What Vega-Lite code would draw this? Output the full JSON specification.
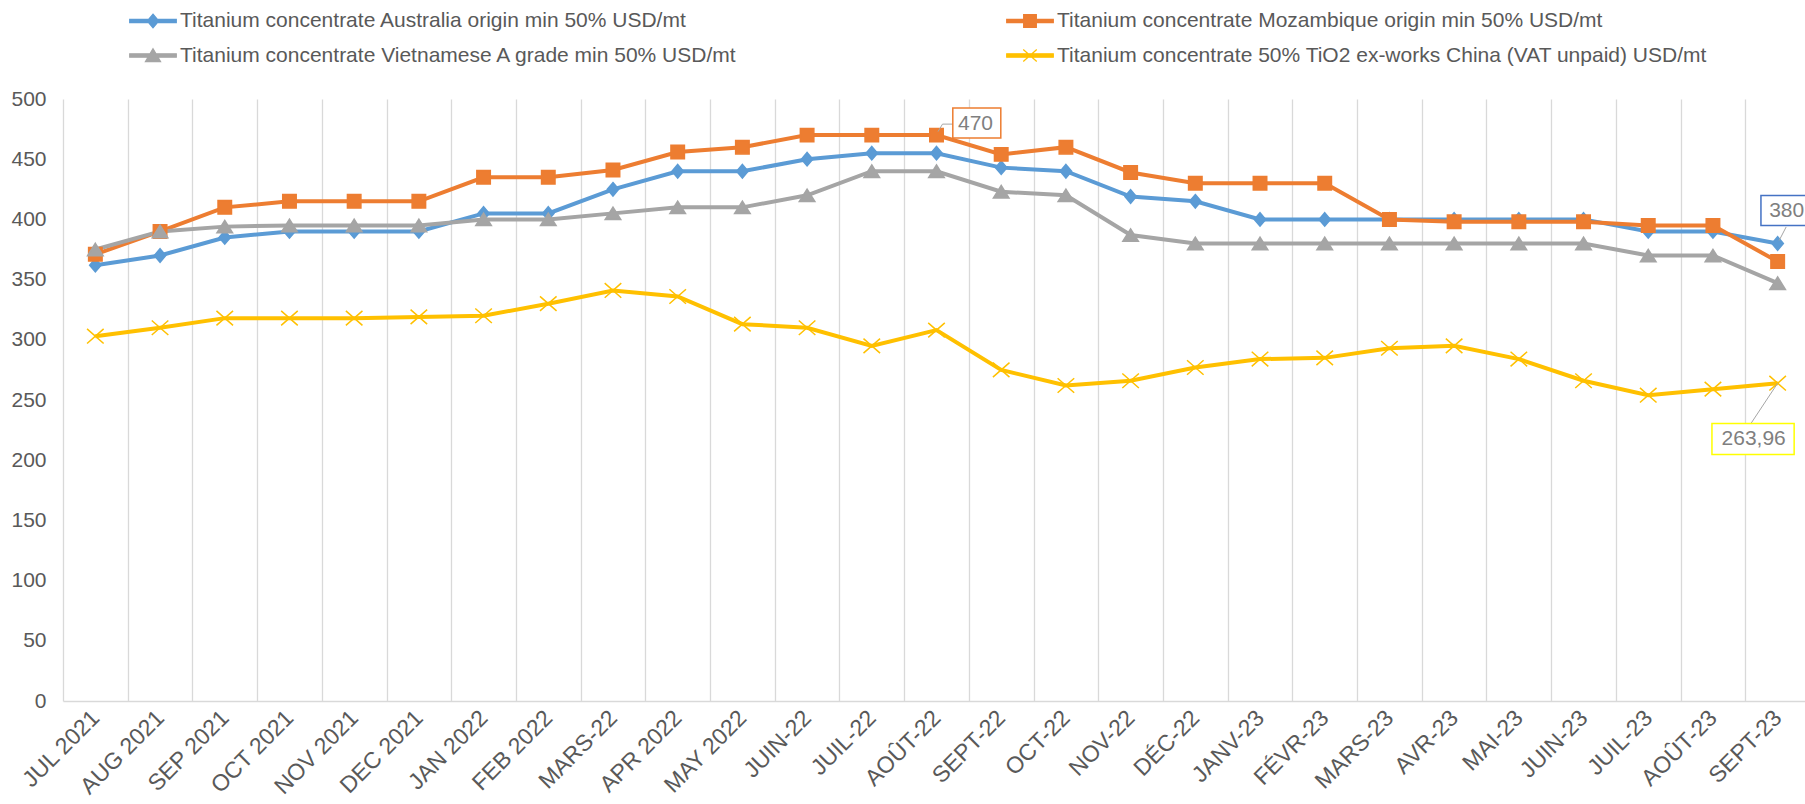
{
  "$schema": "https://vega.github.io/schema/vega-lite/v6.json",
  "autosize": {"type": "none"},
  "width": 1742,
  "height": 602,
  "padding": {"left": 63, "top": 99, "right": 0, "bottom": 103},
  "background": "white",
  "config": {
    "view": {"stroke": null},
    "font": "Liberation Sans",
    "axis": {"labelFont": "Liberation Sans", "labelColor": "#595959"},
    "legend": {"labelFont": "Liberation Sans"}
  },
  "datasets": {
    "prices": [
      {"month": "JUL 2021", "series": "Titanium concentrate Australia origin min 50% USD/mt", "value": 362},
      {"month": "AUG 2021", "series": "Titanium concentrate Australia origin min 50% USD/mt", "value": 370},
      {"month": "SEP 2021", "series": "Titanium concentrate Australia origin min 50% USD/mt", "value": 385},
      {"month": "OCT 2021", "series": "Titanium concentrate Australia origin min 50% USD/mt", "value": 390},
      {"month": "NOV 2021", "series": "Titanium concentrate Australia origin min 50% USD/mt", "value": 390},
      {"month": "DEC 2021", "series": "Titanium concentrate Australia origin min 50% USD/mt", "value": 390},
      {"month": "JAN 2022", "series": "Titanium concentrate Australia origin min 50% USD/mt", "value": 405},
      {"month": "FEB 2022", "series": "Titanium concentrate Australia origin min 50% USD/mt", "value": 405},
      {"month": "MARS-22", "series": "Titanium concentrate Australia origin min 50% USD/mt", "value": 425},
      {"month": "APR 2022", "series": "Titanium concentrate Australia origin min 50% USD/mt", "value": 440},
      {"month": "MAY 2022", "series": "Titanium concentrate Australia origin min 50% USD/mt", "value": 440},
      {"month": "JUIN-22", "series": "Titanium concentrate Australia origin min 50% USD/mt", "value": 450},
      {"month": "JUIL-22", "series": "Titanium concentrate Australia origin min 50% USD/mt", "value": 455},
      {"month": "AOÛT-22", "series": "Titanium concentrate Australia origin min 50% USD/mt", "value": 455},
      {"month": "SEPT-22", "series": "Titanium concentrate Australia origin min 50% USD/mt", "value": 443},
      {"month": "OCT-22", "series": "Titanium concentrate Australia origin min 50% USD/mt", "value": 440},
      {"month": "NOV-22", "series": "Titanium concentrate Australia origin min 50% USD/mt", "value": 419},
      {"month": "DÉC-22", "series": "Titanium concentrate Australia origin min 50% USD/mt", "value": 415},
      {"month": "JANV-23", "series": "Titanium concentrate Australia origin min 50% USD/mt", "value": 400},
      {"month": "FÉVR-23", "series": "Titanium concentrate Australia origin min 50% USD/mt", "value": 400},
      {"month": "MARS-23", "series": "Titanium concentrate Australia origin min 50% USD/mt", "value": 400},
      {"month": "AVR-23", "series": "Titanium concentrate Australia origin min 50% USD/mt", "value": 400},
      {"month": "MAI-23", "series": "Titanium concentrate Australia origin min 50% USD/mt", "value": 400},
      {"month": "JUIN-23", "series": "Titanium concentrate Australia origin min 50% USD/mt", "value": 400},
      {"month": "JUIL-23", "series": "Titanium concentrate Australia origin min 50% USD/mt", "value": 390},
      {"month": "AOÛT-23", "series": "Titanium concentrate Australia origin min 50% USD/mt", "value": 390},
      {"month": "SEPT-23", "series": "Titanium concentrate Australia origin min 50% USD/mt", "value": 380},
      {"month": "JUL 2021", "series": "Titanium concentrate Mozambique origin min 50% USD/mt", "value": 371},
      {"month": "AUG 2021", "series": "Titanium concentrate Mozambique origin min 50% USD/mt", "value": 390},
      {"month": "SEP 2021", "series": "Titanium concentrate Mozambique origin min 50% USD/mt", "value": 410},
      {"month": "OCT 2021", "series": "Titanium concentrate Mozambique origin min 50% USD/mt", "value": 415},
      {"month": "NOV 2021", "series": "Titanium concentrate Mozambique origin min 50% USD/mt", "value": 415},
      {"month": "DEC 2021", "series": "Titanium concentrate Mozambique origin min 50% USD/mt", "value": 415},
      {"month": "JAN 2022", "series": "Titanium concentrate Mozambique origin min 50% USD/mt", "value": 435},
      {"month": "FEB 2022", "series": "Titanium concentrate Mozambique origin min 50% USD/mt", "value": 435},
      {"month": "MARS-22", "series": "Titanium concentrate Mozambique origin min 50% USD/mt", "value": 441},
      {"month": "APR 2022", "series": "Titanium concentrate Mozambique origin min 50% USD/mt", "value": 456},
      {"month": "MAY 2022", "series": "Titanium concentrate Mozambique origin min 50% USD/mt", "value": 460},
      {"month": "JUIN-22", "series": "Titanium concentrate Mozambique origin min 50% USD/mt", "value": 470},
      {"month": "JUIL-22", "series": "Titanium concentrate Mozambique origin min 50% USD/mt", "value": 470},
      {"month": "AOÛT-22", "series": "Titanium concentrate Mozambique origin min 50% USD/mt", "value": 470},
      {"month": "SEPT-22", "series": "Titanium concentrate Mozambique origin min 50% USD/mt", "value": 454},
      {"month": "OCT-22", "series": "Titanium concentrate Mozambique origin min 50% USD/mt", "value": 460},
      {"month": "NOV-22", "series": "Titanium concentrate Mozambique origin min 50% USD/mt", "value": 439},
      {"month": "DÉC-22", "series": "Titanium concentrate Mozambique origin min 50% USD/mt", "value": 430},
      {"month": "JANV-23", "series": "Titanium concentrate Mozambique origin min 50% USD/mt", "value": 430},
      {"month": "FÉVR-23", "series": "Titanium concentrate Mozambique origin min 50% USD/mt", "value": 430},
      {"month": "MARS-23", "series": "Titanium concentrate Mozambique origin min 50% USD/mt", "value": 400},
      {"month": "AVR-23", "series": "Titanium concentrate Mozambique origin min 50% USD/mt", "value": 398},
      {"month": "MAI-23", "series": "Titanium concentrate Mozambique origin min 50% USD/mt", "value": 398},
      {"month": "JUIN-23", "series": "Titanium concentrate Mozambique origin min 50% USD/mt", "value": 398},
      {"month": "JUIL-23", "series": "Titanium concentrate Mozambique origin min 50% USD/mt", "value": 395},
      {"month": "AOÛT-23", "series": "Titanium concentrate Mozambique origin min 50% USD/mt", "value": 395},
      {"month": "SEPT-23", "series": "Titanium concentrate Mozambique origin min 50% USD/mt", "value": 365},
      {"month": "JUL 2021", "series": "Titanium concentrate Vietnamese A grade min 50% USD/mt", "value": 375},
      {"month": "AUG 2021", "series": "Titanium concentrate Vietnamese A grade min 50% USD/mt", "value": 390},
      {"month": "SEP 2021", "series": "Titanium concentrate Vietnamese A grade min 50% USD/mt", "value": 394},
      {"month": "OCT 2021", "series": "Titanium concentrate Vietnamese A grade min 50% USD/mt", "value": 395},
      {"month": "NOV 2021", "series": "Titanium concentrate Vietnamese A grade min 50% USD/mt", "value": 395},
      {"month": "DEC 2021", "series": "Titanium concentrate Vietnamese A grade min 50% USD/mt", "value": 395},
      {"month": "JAN 2022", "series": "Titanium concentrate Vietnamese A grade min 50% USD/mt", "value": 400},
      {"month": "FEB 2022", "series": "Titanium concentrate Vietnamese A grade min 50% USD/mt", "value": 400},
      {"month": "MARS-22", "series": "Titanium concentrate Vietnamese A grade min 50% USD/mt", "value": 405},
      {"month": "APR 2022", "series": "Titanium concentrate Vietnamese A grade min 50% USD/mt", "value": 410},
      {"month": "MAY 2022", "series": "Titanium concentrate Vietnamese A grade min 50% USD/mt", "value": 410},
      {"month": "JUIN-22", "series": "Titanium concentrate Vietnamese A grade min 50% USD/mt", "value": 420},
      {"month": "JUIL-22", "series": "Titanium concentrate Vietnamese A grade min 50% USD/mt", "value": 440},
      {"month": "AOÛT-22", "series": "Titanium concentrate Vietnamese A grade min 50% USD/mt", "value": 440},
      {"month": "SEPT-22", "series": "Titanium concentrate Vietnamese A grade min 50% USD/mt", "value": 423},
      {"month": "OCT-22", "series": "Titanium concentrate Vietnamese A grade min 50% USD/mt", "value": 420},
      {"month": "NOV-22", "series": "Titanium concentrate Vietnamese A grade min 50% USD/mt", "value": 387},
      {"month": "DÉC-22", "series": "Titanium concentrate Vietnamese A grade min 50% USD/mt", "value": 380},
      {"month": "JANV-23", "series": "Titanium concentrate Vietnamese A grade min 50% USD/mt", "value": 380},
      {"month": "FÉVR-23", "series": "Titanium concentrate Vietnamese A grade min 50% USD/mt", "value": 380},
      {"month": "MARS-23", "series": "Titanium concentrate Vietnamese A grade min 50% USD/mt", "value": 380},
      {"month": "AVR-23", "series": "Titanium concentrate Vietnamese A grade min 50% USD/mt", "value": 380},
      {"month": "MAI-23", "series": "Titanium concentrate Vietnamese A grade min 50% USD/mt", "value": 380},
      {"month": "JUIN-23", "series": "Titanium concentrate Vietnamese A grade min 50% USD/mt", "value": 380},
      {"month": "JUIL-23", "series": "Titanium concentrate Vietnamese A grade min 50% USD/mt", "value": 370},
      {"month": "AOÛT-23", "series": "Titanium concentrate Vietnamese A grade min 50% USD/mt", "value": 370},
      {"month": "SEPT-23", "series": "Titanium concentrate Vietnamese A grade min 50% USD/mt", "value": 347},
      {"month": "JUL 2021", "series": "Titanium concentrate 50% TiO2 ex-works China (VAT unpaid) USD/mt", "value": 303},
      {"month": "AUG 2021", "series": "Titanium concentrate 50% TiO2 ex-works China (VAT unpaid) USD/mt", "value": 310},
      {"month": "SEP 2021", "series": "Titanium concentrate 50% TiO2 ex-works China (VAT unpaid) USD/mt", "value": 318},
      {"month": "OCT 2021", "series": "Titanium concentrate 50% TiO2 ex-works China (VAT unpaid) USD/mt", "value": 318},
      {"month": "NOV 2021", "series": "Titanium concentrate 50% TiO2 ex-works China (VAT unpaid) USD/mt", "value": 318},
      {"month": "DEC 2021", "series": "Titanium concentrate 50% TiO2 ex-works China (VAT unpaid) USD/mt", "value": 319},
      {"month": "JAN 2022", "series": "Titanium concentrate 50% TiO2 ex-works China (VAT unpaid) USD/mt", "value": 320},
      {"month": "FEB 2022", "series": "Titanium concentrate 50% TiO2 ex-works China (VAT unpaid) USD/mt", "value": 330},
      {"month": "MARS-22", "series": "Titanium concentrate 50% TiO2 ex-works China (VAT unpaid) USD/mt", "value": 341},
      {"month": "APR 2022", "series": "Titanium concentrate 50% TiO2 ex-works China (VAT unpaid) USD/mt", "value": 336},
      {"month": "MAY 2022", "series": "Titanium concentrate 50% TiO2 ex-works China (VAT unpaid) USD/mt", "value": 313},
      {"month": "JUIN-22", "series": "Titanium concentrate 50% TiO2 ex-works China (VAT unpaid) USD/mt", "value": 310},
      {"month": "JUIL-22", "series": "Titanium concentrate 50% TiO2 ex-works China (VAT unpaid) USD/mt", "value": 295},
      {"month": "AOÛT-22", "series": "Titanium concentrate 50% TiO2 ex-works China (VAT unpaid) USD/mt", "value": 308},
      {"month": "SEPT-22", "series": "Titanium concentrate 50% TiO2 ex-works China (VAT unpaid) USD/mt", "value": 275},
      {"month": "OCT-22", "series": "Titanium concentrate 50% TiO2 ex-works China (VAT unpaid) USD/mt", "value": 262},
      {"month": "NOV-22", "series": "Titanium concentrate 50% TiO2 ex-works China (VAT unpaid) USD/mt", "value": 266},
      {"month": "DÉC-22", "series": "Titanium concentrate 50% TiO2 ex-works China (VAT unpaid) USD/mt", "value": 277},
      {"month": "JANV-23", "series": "Titanium concentrate 50% TiO2 ex-works China (VAT unpaid) USD/mt", "value": 284},
      {"month": "FÉVR-23", "series": "Titanium concentrate 50% TiO2 ex-works China (VAT unpaid) USD/mt", "value": 285},
      {"month": "MARS-23", "series": "Titanium concentrate 50% TiO2 ex-works China (VAT unpaid) USD/mt", "value": 293},
      {"month": "AVR-23", "series": "Titanium concentrate 50% TiO2 ex-works China (VAT unpaid) USD/mt", "value": 295},
      {"month": "MAI-23", "series": "Titanium concentrate 50% TiO2 ex-works China (VAT unpaid) USD/mt", "value": 284},
      {"month": "JUIN-23", "series": "Titanium concentrate 50% TiO2 ex-works China (VAT unpaid) USD/mt", "value": 266},
      {"month": "JUIL-23", "series": "Titanium concentrate 50% TiO2 ex-works China (VAT unpaid) USD/mt", "value": 254},
      {"month": "AOÛT-23", "series": "Titanium concentrate 50% TiO2 ex-works China (VAT unpaid) USD/mt", "value": 259},
      {"month": "SEPT-23", "series": "Titanium concentrate 50% TiO2 ex-works China (VAT unpaid) USD/mt", "value": 263.96}
    ],
    "labels": [
      {"month": "AOÛT-22", "series": "Titanium concentrate Mozambique origin min 50% USD/mt", "value": 470, "label": "470"},
      {"month": "SEPT-23", "series": "Titanium concentrate Australia origin min 50% USD/mt", "value": 380, "label": "380"},
      {"month": "SEPT-23", "series": "Titanium concentrate 50% TiO2 ex-works China (VAT unpaid) USD/mt", "value": 263.96, "label": "263,96"}
    ]
  },
  "resolve": {"scale": {"shape": "independent", "fill": "independent", "stroke": "independent"}},
  "encoding": {
    "x": {
      "field": "month",
      "type": "ordinal",
      "sort": ["JUL 2021","AUG 2021","SEP 2021","OCT 2021","NOV 2021","DEC 2021","JAN 2022","FEB 2022","MARS-22","APR 2022","MAY 2022","JUIN-22","JUIL-22","AOÛT-22","SEPT-22","OCT-22","NOV-22","DÉC-22","JANV-23","FÉVR-23","MARS-23","AVR-23","MAI-23","JUIN-23","JUIL-23","AOÛT-23","SEPT-23"],
      "scale": {"type": "band", "paddingInner": 0, "paddingOuter": 0, "range": [0, 1747]},
      "axis": {
        "title": null,
        "tickBand": "extent",
        "ticks": false,
        "grid": true,
        "gridColor": "#D9D9D9",
        "gridWidth": 1.3,
        "domainColor": "#D9D9D9",
        "domainWidth": 1.5,
        "labelAngle": -45,
        "labelAlign": "right",
        "labelBaseline": "middle",
        "labelPadding": 13,
        "labelFontSize": 23
      }
    },
    "y": {
      "field": "value",
      "type": "quantitative",
      "scale": {"domain": [0, 500], "nice": false},
      "axis": {
        "title": null,
        "values": [0, 50, 100, 150, 200, 250, 300, 350, 400, 450, 500],
        "grid": false,
        "domain": false,
        "ticks": false,
        "labelPadding": 17,
        "labelFontSize": 21
      }
    }
  },
  "layer": [
    {
      "data": {"name": "prices"},
      "mark": {"type": "line", "strokeWidth": 4},
      "encoding": {
        "color": {
          "field": "series",
          "type": "nominal",
          "scale": {
            "domain": ["Titanium concentrate Australia origin min 50% USD/mt", "Titanium concentrate Mozambique origin min 50% USD/mt", "Titanium concentrate Vietnamese A grade min 50% USD/mt", "Titanium concentrate 50% TiO2 ex-works China (VAT unpaid) USD/mt"],
            "range": ["#5B9BD5", "#ED7D31", "#A5A5A5", "#FFC000"]
          },
          "legend": null
        }
      }
    },
    {
      "data": {"name": "prices"},
      "mark": {"type": "point", "filled": true, "opacity": 1, "size": 430, "strokeWidth": 1.5},
      "encoding": {
        "shape": {
          "field": "series",
          "type": "nominal",
          "scale": {
            "domain": ["Titanium concentrate Australia origin min 50% USD/mt", "Titanium concentrate Mozambique origin min 50% USD/mt", "Titanium concentrate Vietnamese A grade min 50% USD/mt", "Titanium concentrate 50% TiO2 ex-works China (VAT unpaid) USD/mt"],
            "range": ["M0,-0.65L0.55,0L0,0.65L-0.55,0Z", "M-0.65,-0.65H0.65V0.65H-0.65Z", "M0,-0.6L0.75,0.6H-0.75Z", "M-0.8,-0.7L0.8,0.7M-0.8,0.7L0.8,-0.7"]
          },
          "legend": null
        },
        "fill": {
          "field": "series",
          "type": "nominal",
          "scale": {
            "domain": ["Titanium concentrate Australia origin min 50% USD/mt", "Titanium concentrate Mozambique origin min 50% USD/mt", "Titanium concentrate Vietnamese A grade min 50% USD/mt", "Titanium concentrate 50% TiO2 ex-works China (VAT unpaid) USD/mt"],
            "range": ["#5B9BD5", "#ED7D31", "#A5A5A5", "#FFC000"]
          },
          "legend": null
        },
        "stroke": {
          "field": "series",
          "type": "nominal",
          "scale": {
            "domain": ["Titanium concentrate Australia origin min 50% USD/mt", "Titanium concentrate Mozambique origin min 50% USD/mt", "Titanium concentrate Vietnamese A grade min 50% USD/mt", "Titanium concentrate 50% TiO2 ex-works China (VAT unpaid) USD/mt"],
            "range": ["#5B9BD5", "#ED7D31", "#A5A5A5", "#FFC000"]
          },
          "legend": null
        }
      }
    },
    {
      "data": {"name": "prices"},
      "transform": [{"filter": "false"}],
      "mark": {"type": "point", "filled": true, "opacity": 1, "size": 900, "strokeWidth": 1.3},
      "encoding": {
        "shape": {
          "field": "series",
          "type": "nominal",
          "scale": {
            "domain": ["Titanium concentrate Australia origin min 50% USD/mt", "Titanium concentrate Mozambique origin min 50% USD/mt", "Titanium concentrate Vietnamese A grade min 50% USD/mt", "Titanium concentrate 50% TiO2 ex-works China (VAT unpaid) USD/mt"],
            "range": [
              "M-1.55,-0.11H1.55V0.11H-1.55ZM0,-0.45L0.38,0L0,0.45L-0.38,0Z",
              "M-1.55,-0.11H1.55V0.11H-1.55ZM-0.42,-0.42H0.42V0.42H-0.42Z",
              "M-1.55,-0.11H1.55V0.11H-1.55ZM0,-0.45L0.5,0.4H-0.5Z",
              "M-1.55,-0.11H1.55V0.11H-1.55ZM-0.45,-0.4L0.45,0.4M-0.45,0.4L0.45,-0.4"
            ]
          },
          "legend": {
            "title": null,
            "orient": "none",
            "legendX": 74,
            "legendY": -94,
            "direction": "horizontal",
            "columns": 2,
            "padding": 0,
            "columnPadding": 266,
            "rowPadding": 8.5,
            "symbolSize": 900,
            "symbolStrokeWidth": 1.3,
            "labelOffset": 11,
            "labelLimit": 1000,
            "labelFontSize": 21,
            "labelColor": "#595959"
          }
        },
        "fill": {
          "field": "series",
          "type": "nominal",
          "scale": {
            "domain": ["Titanium concentrate Australia origin min 50% USD/mt", "Titanium concentrate Mozambique origin min 50% USD/mt", "Titanium concentrate Vietnamese A grade min 50% USD/mt", "Titanium concentrate 50% TiO2 ex-works China (VAT unpaid) USD/mt"],
            "range": ["#5B9BD5", "#ED7D31", "#A5A5A5", "#FFC000"]
          },
          "legend": {
            "title": null,
            "orient": "none",
            "legendX": 74,
            "legendY": -94,
            "direction": "horizontal",
            "columns": 2,
            "padding": 0,
            "columnPadding": 266,
            "rowPadding": 8.5,
            "symbolSize": 900,
            "symbolStrokeWidth": 1.3,
            "labelOffset": 11,
            "labelLimit": 1000,
            "labelFontSize": 21,
            "labelColor": "#595959"
          }
        },
        "stroke": {
          "field": "series",
          "type": "nominal",
          "scale": {
            "domain": ["Titanium concentrate Australia origin min 50% USD/mt", "Titanium concentrate Mozambique origin min 50% USD/mt", "Titanium concentrate Vietnamese A grade min 50% USD/mt", "Titanium concentrate 50% TiO2 ex-works China (VAT unpaid) USD/mt"],
            "range": ["#5B9BD5", "#ED7D31", "#A5A5A5", "#FFC000"]
          },
          "legend": {
            "title": null,
            "orient": "none",
            "legendX": 74,
            "legendY": -94,
            "direction": "horizontal",
            "columns": 2,
            "padding": 0,
            "columnPadding": 266,
            "rowPadding": 8.5,
            "symbolSize": 900,
            "symbolStrokeWidth": 1.3,
            "labelOffset": 11,
            "labelLimit": 1000,
            "labelFontSize": 21,
            "labelColor": "#595959"
          }
        }
      }
    },
    {
      "data": {"name": "labels"},
      "transform": [{"filter": "datum.label === '470'"}],
      "mark": {"type": "point", "shape": "M0.03,-0.07L0.12,-0.22L0.33,-0.22", "size": 10000, "filled": false, "stroke": "#A6A6A6", "strokeWidth": 1, "opacity": 1}
    },
    {
      "data": {"name": "labels"},
      "transform": [{"filter": "datum.label === '470'"}],
      "mark": {"type": "point", "shape": "M0.326,-0.54H1.286V0.06H0.326Z", "size": 10000, "filled": true, "fill": "white", "stroke": "#ED7D31", "strokeWidth": 1.5, "opacity": 1}
    },
    {
      "data": {"name": "labels"},
      "transform": [{"filter": "datum.label === '470'"}],
      "mark": {"type": "text", "dx": 39, "dy": -11, "fontSize": 21, "color": "#7F7F7F", "align": "center", "baseline": "middle"},
      "encoding": {"text": {"field": "label"}}
    },
    {
      "data": {"name": "labels"},
      "transform": [{"filter": "datum.label === '380'"}],
      "mark": {"type": "point", "shape": "M0.03,-0.06L0.17,-0.33", "size": 10000, "filled": false, "stroke": "#A6A6A6", "strokeWidth": 1, "opacity": 1}
    },
    {
      "data": {"name": "labels"},
      "transform": [{"filter": "datum.label === '380'"}],
      "mark": {"type": "point", "shape": "M-0.334,-0.96H0.666V-0.36H-0.334Z", "size": 10000, "filled": true, "fill": "white", "stroke": "#4472C4", "strokeWidth": 1.5, "opacity": 1}
    },
    {
      "data": {"name": "labels"},
      "transform": [{"filter": "datum.label === '380'"}],
      "mark": {"type": "text", "dx": 9, "dy": -32, "fontSize": 21, "color": "#7F7F7F", "align": "center", "baseline": "middle"},
      "encoding": {"text": {"field": "label"}}
    },
    {
      "data": {"name": "labels"},
      "transform": [{"filter": "datum.label === '263,96'"}],
      "mark": {"type": "point", "shape": "M0,0L-0.53,0.8", "size": 10000, "filled": false, "stroke": "#A6A6A6", "strokeWidth": 1, "opacity": 1}
    },
    {
      "data": {"name": "labels"},
      "transform": [{"filter": "datum.label === '263,96'"}],
      "mark": {"type": "point", "shape": "M-1.314,0.806H0.33V1.426H-1.314Z", "size": 10000, "filled": true, "fill": "white", "stroke": "#FFFF00", "strokeWidth": 1.5, "opacity": 1}
    },
    {
      "data": {"name": "labels"},
      "transform": [{"filter": "datum.label === '263,96'"}],
      "mark": {"type": "text", "dx": -24, "dy": 56, "fontSize": 21, "color": "#7F7F7F", "align": "center", "baseline": "middle"},
      "encoding": {"text": {"field": "label"}}
    }
  ]
}
